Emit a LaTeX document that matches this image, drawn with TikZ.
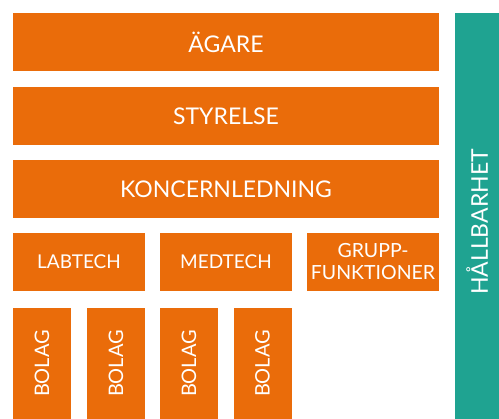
\documentclass[tikz,border=0pt]{standalone}
\usepackage{fontspec}
\setmainfont{Lato}
\usepackage{xcolor}
\usepackage{tikz}
\definecolor{orangebox}{HTML}{EA6C0A}
\definecolor{tealbar}{HTML}{1FA391}

\begin{document}
\begin{tikzpicture}[x=1pt,y=-1pt,
		box/.style={fill=orangebox, text=white, inner sep=0pt, align=center,
			font=\fontsize{23}{25}\selectfont},
		smallbox/.style={box, minimum width=132pt, minimum height=58pt,
			font=\fontsize{19}{21}\selectfont},
		bolag/.style={box, minimum width=58pt, minimum height=111pt, font=\fontsize{20}{22}\selectfont}]
		\useasboundingbox (0,0) rectangle (499,419);
		
		\node[box, minimum width=426pt, minimum height=58pt] (agare) at (226,42) {ÄGARE};
		\node[box, minimum width=426pt, minimum height=58pt] (styrelse) at (226,116) {STYRELSE};
		\node[box, minimum width=426pt, minimum height=58pt] (koncern) at (226,189) {KONCERNLEDNING};
		
		\node[smallbox] (labtech) at (79,262) {LABTECH};
		\node[smallbox] (medtech) at (226,262) {MEDTECH};
		\node[smallbox, font=\fontsize{19.5}{22}\selectfont] (grupp) at (373,262) {GRUPP-\\FUNKTIONER};
		
		\node[bolag] (bolagA) at (42,363.5) {\rotatebox{90}{BOLAG}};
		\node[bolag] (bolagB) at (116,363.5) {\rotatebox{90}{BOLAG}};
		\node[bolag] (bolagC) at (189,363.5) {\rotatebox{90}{BOLAG}};
		\node[bolag] (bolagD) at (262.5,363.5) {\rotatebox{90}{BOLAG}};
		
		% text sits a little below the middle of the bar
		\node[box, fill=tealbar, minimum width=44pt, minimum height=406pt, font=\fontsize{23}{25}\selectfont] (hallbarhet) at (477,216) {\rotatebox{90}{HÅLLBARHET\hspace{12pt}}};
	\end{tikzpicture}
\end{document}
